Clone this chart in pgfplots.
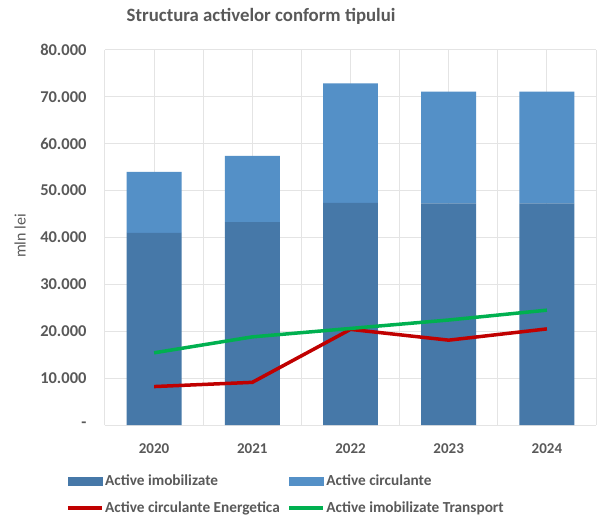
\documentclass[border=0pt]{standalone}
\usepackage{pgfplots}
\pgfplotsset{compat=1.18}
\usepackage{fontspec}
\setmainfont{Carlito}
\definecolor{imob}{HTML}{4678A8}
\definecolor{circ}{HTML}{5490C7}
\definecolor{ered}{HTML}{C00000}
\definecolor{tgreen}{HTML}{00B050}
\definecolor{txt}{HTML}{595959}
\definecolor{grd}{HTML}{E4E4E4}
\pgfplotsset{common/.style={scale only axis, width=491bp, height=375bp,
  xmin=-0.5, xmax=4.5, ymin=0, ymax=80000}}
\begin{document}
\begin{tikzpicture}
\path[use as bounding box, fill=white] (-105bp,-92bp) rectangle (497bp,425bp);
\begin{axis}[
  common,
  ybar stacked, bar width=0.56,
  scaled y ticks=false,
  xtick={0,1,2,3,4}, xticklabels={2020,2021,2022,2023,2024},
  minor xtick={-0.5,0.5,1.5,2.5,3.5,4.5},
  ytick={0,10000,20000,30000,40000,50000,60000,70000,80000},
  yticklabels={-,10.000,20.000,30.000,40.000,50.000,60.000,70.000,80.000},
  xmajorgrids, xminorgrids, ymajorgrids,
  major grid style={grd, line width=1bp},
  minor grid style={grd, line width=1bp},
  axis line style={draw=none}, tick style={draw=none}, major tick length=0pt, minor tick length=0pt,
  yticklabel style={font=\fontsize{16.5bp}{19bp}\selectfont\bfseries, text=txt, xshift=-15bp},
  xticklabel style={font=\fontsize{15bp}{18bp}\selectfont\bfseries, text=txt, yshift=-15bp},
  title={Structura activelor conform tipului},
  title style={at={(0.318,1.075)}, anchor=center, font=\fontsize{18.8bp}{22bp}\selectfont\bfseries, text=txt},
  ylabel={mln lei},
  ylabel style={at={(-0.173,0.504)}, anchor=center, font=\fontsize{16bp}{19bp}\selectfont, text=txt},
]
\addplot[fill=imob, draw=none]
  coordinates {(0,41000) (1,43300) (2,47400) (3,47300) (4,47300)};
\addplot[fill=circ, draw=none]
  coordinates {(0,13000) (1,14100) (2,25500) (3,23800) (4,23800)};
\end{axis}
\begin{axis}[
  common, hide axis,
  legend columns=2, legend cell align=left,
  legend style={at={(-0.0794,-0.128)}, anchor=north west, draw=none, fill=none,
    font=\fontsize{15.3bp}{18bp}\selectfont\bfseries, text=txt, inner sep=0pt,
    row sep=12bp, /tikz/every even column/.append style={column sep=6bp},
    nodes={inner sep=1.5bp}},
]
\addlegendimage{legend image code/.code={\fill[imob] (0bp,-4bp) rectangle (34bp,4bp);}}
\addlegendentry{Active imobilizate}
\addlegendimage{legend image code/.code={\fill[circ] (0bp,-4bp) rectangle (34bp,4bp);}}
\addlegendentry{Active circulante}
\addplot[ered, line width=3.5bp, mark=none,
  legend image code/.code={\draw[ered, line width=3.5bp] (0bp,0bp) -- (34bp,0bp);}]
  coordinates {(0,8200) (1,9100) (2,20400) (3,18100) (4,20500)};
\addlegendentry{Active circulante Energetica}
\addplot[tgreen, line width=3.5bp, mark=none,
  legend image code/.code={\draw[tgreen, line width=3.5bp] (0bp,0bp) -- (34bp,0bp);}]
  coordinates {(0,15400) (1,18800) (2,20600) (3,22400) (4,24500)};
\addlegendentry{Active imobilizate Transport}
\end{axis}
\end{tikzpicture}
\end{document}
